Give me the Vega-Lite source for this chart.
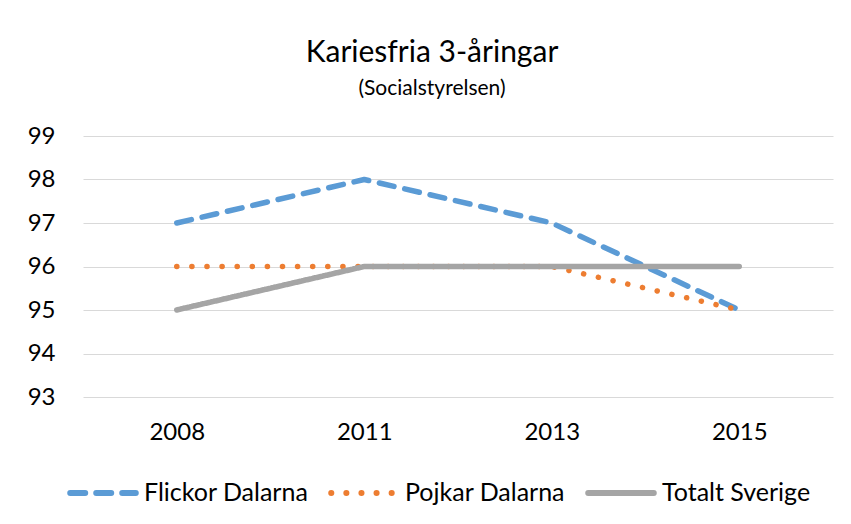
{
  "$schema": "https://vega.github.io/schema/vega-lite/v6.json",
  "width": 750,
  "height": 261,
  "autosize": {"type": "none"},
  "padding": {"left": 83, "top": 136, "right": 18, "bottom": 127},
  "background": "white",
  "title": {
    "text": "Kariesfria 3-åringar",
    "subtitle": "(Socialstyrelsen)",
    "anchor": "middle",
    "font": "Lato",
    "fontSize": 30,
    "fontWeight": "normal",
    "color": "#000000",
    "subtitleFont": "Lato",
    "subtitleFontSize": 21,
    "subtitleColor": "#000000",
    "subtitlePadding": 10,
    "offset": 25,
    "dx": -26
  },
  "data": {
    "values": [
      {"year": "2008", "series": "Flickor Dalarna", "value": 97},
      {"year": "2011", "series": "Flickor Dalarna", "value": 98},
      {"year": "2013", "series": "Flickor Dalarna", "value": 97},
      {"year": "2015", "series": "Flickor Dalarna", "value": 95},
      {"year": "2008", "series": "Pojkar Dalarna", "value": 96},
      {"year": "2011", "series": "Pojkar Dalarna", "value": 96},
      {"year": "2013", "series": "Pojkar Dalarna", "value": 96},
      {"year": "2015", "series": "Pojkar Dalarna", "value": 95},
      {"year": "2008", "series": "Totalt Sverige", "value": 95},
      {"year": "2011", "series": "Totalt Sverige", "value": 96},
      {"year": "2013", "series": "Totalt Sverige", "value": 96},
      {"year": "2015", "series": "Totalt Sverige", "value": 96}
    ]
  },
  "mark": {"type": "line", "strokeWidth": 5.5, "strokeCap": "round", "strokeJoin": "round"},
  "encoding": {
    "x": {
      "field": "year",
      "type": "ordinal",
      "scale": {"type": "point", "padding": 0.5},
      "axis": {
        "title": null,
        "labelAngle": 0,
        "labelFont": "Lato",
        "labelFontSize": 24,
        "labelColor": "#000000",
        "labelPadding": 23,
        "ticks": false,
        "domain": false,
        "grid": false
      }
    },
    "y": {
      "field": "value",
      "type": "quantitative",
      "scale": {"domain": [93, 99], "zero": false, "nice": false},
      "axis": {
        "title": null,
        "values": [93, 94, 95, 96, 97, 98, 99],
        "labelFont": "Lato",
        "labelFontSize": 24,
        "labelColor": "#000000",
        "labelPadding": 28,
        "ticks": false,
        "domain": false,
        "grid": true,
        "gridColor": "#d9d9d9",
        "gridWidth": 1
      }
    },
    "color": {
      "field": "series",
      "type": "nominal",
      "scale": {
        "domain": ["Flickor Dalarna", "Pojkar Dalarna", "Totalt Sverige"],
        "range": ["#5B9BD5", "#ED7D31", "#A5A5A5"]
      },
      "legend": {
        "title": null,
        "orient": "none",
        "legendX": -16,
        "legendY": 321,
        "direction": "horizontal",
        "labelFont": "Lato",
        "labelFontSize": 25,
        "labelColor": "#000000",
        "labelLimit": 400,
        "symbolType": "stroke",
        "symbolSize": 4300,
        "symbolStrokeWidth": 6,
        "labelOffset": 5,
        "columnPadding": 10,
        "encode": {
          "symbols": {"update": {"strokeCap": {"value": "round"}}}
        }
      }
    },
    "strokeDash": {
      "field": "series",
      "type": "nominal",
      "scale": {
        "domain": ["Flickor Dalarna", "Pojkar Dalarna", "Totalt Sverige"],
        "range": [[15, 11], [0.1, 15], [1, 0]]
      },
      "legend": null
    }
  },
  "config": {
    "view": {"stroke": null}
  }
}
